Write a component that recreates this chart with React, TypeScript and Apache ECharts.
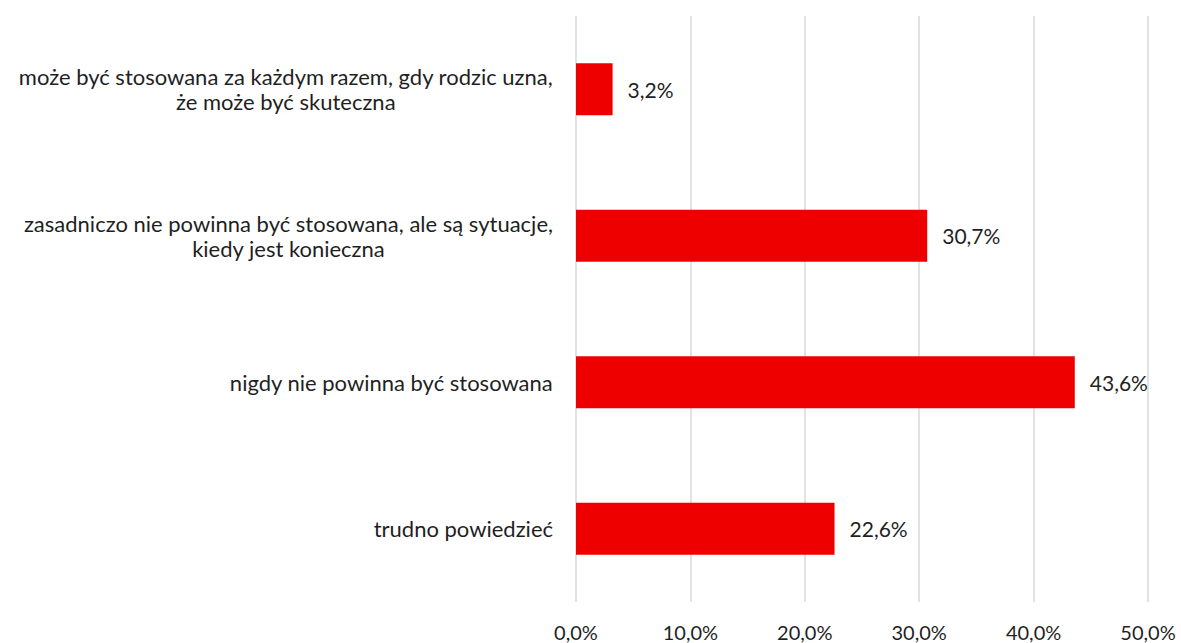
import React, { useEffect, useRef } from "react";
import * as echarts from "echarts";

const categories = [
  "może być stosowana za każdym razem, gdy rodzic uzna,\nże może być skuteczna",
  "zasadniczo nie powinna być stosowana, ale są sytuacje,\nkiedy jest konieczna",
  "nigdy nie powinna być stosowana",
  "trudno powiedzieć",
];
const values = [3.2, 30.7, 43.6, 22.6];
const xTicks = { min: 0, max: 50, interval: 10 };

const FONT = "Lato";
const TEXT = "#1f1f1f";

export default function App() {
  const ref = useRef<HTMLDivElement>(null);
  useEffect(() => {
    if (!ref.current) return;
    const chart = echarts.init(ref.current, undefined, { renderer: "svg" });
    chart.setOption({
      animation: false,
      textStyle: { fontFamily: FONT },
      grid: { left: 576, right: 33, top: 16, bottom: 41, containLabel: false },
      xAxis: {
        type: "value",
        min: xTicks.min,
        max: xTicks.max,
        interval: xTicks.interval,
        axisLine: { show: false },
        axisTick: { show: false },
        splitLine: { lineStyle: { color: "#d9d9d9", width: 1.5 } },
        axisLabel: {
          color: TEXT,
          fontSize: 20,
          fontFamily: FONT,
          margin: 20,
          lineHeight: 20,
          formatter: (v: number) => v.toFixed(1).replace(".", ",") + "%",
        },
      },
      yAxis: {
        type: "category",
        inverse: true,
        data: categories,
        axisLine: { show: false },
        axisTick: { show: false },
        axisLabel: {
          margin: 23,
          color: TEXT,
          fontSize: 22,
          fontFamily: FONT,
          lineHeight: 25,
          formatter: (v: string) =>
            v
              .split("\n")
              .map((l) => "{a|" + l + "}")
              .join("\n"),
          rich: {
            a: {
              align: "center",
              color: TEXT,
              fontSize: 22,
              fontFamily: FONT,
              lineHeight: 25,
            },
          },
        },
      },
      series: [
        {
          type: "bar",
          data: values,
          barWidth: 52,
          itemStyle: { color: "#ee0000" },
          label: {
            show: true,
            position: "right",
            distance: 15,
            color: TEXT,
            fontSize: 21,
            fontFamily: FONT,
            formatter: (p: any) => p.value.toFixed(1).replace(".", ",") + "%",
          },
        },
      ],
    });
    return () => chart.dispose();
  }, []);
  return <div ref={ref} style={{ width: 1181, height: 643, position: "absolute", left: 0, top: 0 }} />;
}
